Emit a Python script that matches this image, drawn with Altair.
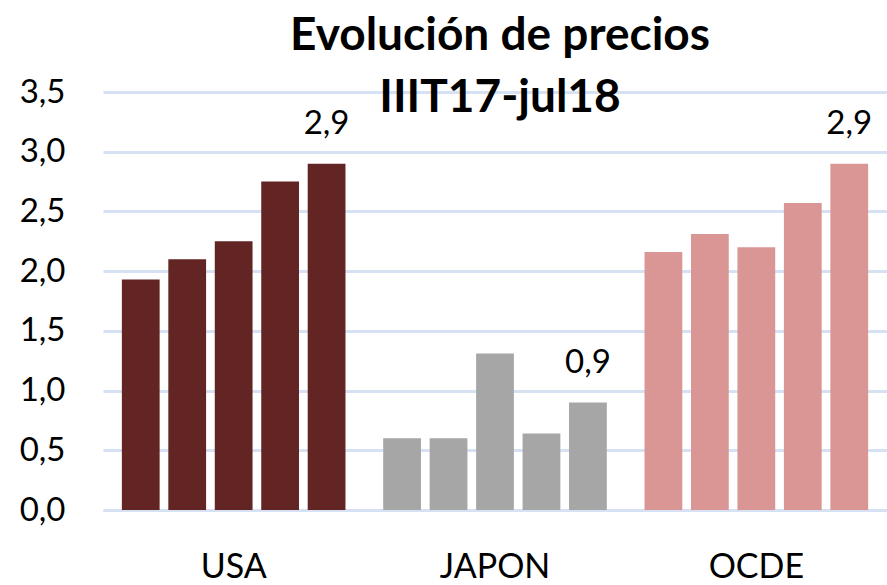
import altair as alt
import pandas as pd

groups = ["USA", "JAPON", "OCDE"]
usa = [1.93, 2.10, 2.25, 2.75, 2.90]
japon = [0.60, 0.60, 1.31, 0.64, 0.90]
ocde = [2.16, 2.31, 2.20, 2.57, 2.90]
colors = ["#632523", "#A6A6A6", "#D99694"]
title_lines = ["Evolución de precios", "IIIT17-jul18"]

rows = []
for g, vals in zip(groups, [usa, japon, ocde]):
    for i, v in enumerate(vals):
        rows.append({"group": g, "i": i, "value": v})
df = pd.DataFrame(rows)

FONT = "Lato"
GRID = "#D6E2F3"

x = alt.X("group:N", sort=groups,
          scale=alt.Scale(paddingInner=0, paddingOuter=0),
          axis=alt.Axis(title=None, labelAngle=0, labelFontSize=34, labelFont=FONT,
                        labelColor="#000000", ticks=False, labelPadding=40,
                        domainColor=GRID, domainWidth=3))
xo = alt.XOffset("i:O", scale=alt.Scale(paddingInner=0.187, paddingOuter=0.406))
y = alt.Y("value:Q", scale=alt.Scale(domain=[0, 3.5], nice=False),
          axis=alt.Axis(title=None, values=[0, 0.5, 1, 1.5, 2, 2.5, 3, 3.5],
                        labelExpr="replace(format(datum.value, '.1f'), '.', ',')",
                        labelFontSize=33, labelFont=FONT, labelColor="#000000",
                        ticks=False, domain=False, labelPadding=38,
                        gridColor=GRID, gridWidth=3))

base = alt.Chart(df)
bars = base.mark_bar().encode(
    x=x, xOffset=xo, y=y,
    color=alt.Color("group:N", sort=groups,
                    scale=alt.Scale(domain=groups, range=colors), legend=None),
)
labels = base.transform_filter("datum.i == 4").transform_calculate(
    lab="replace(format(datum.value, '.1f'), '.', ',')"
).mark_text(font=FONT, fontSize=33, color="#000000", baseline="alphabetic", dy=-30).encode(
    x=x, xOffset=xo, y=y, text="lab:N"
)

chart = (bars + labels).properties(
    width=784, height=418,
    title=alt.TitleParams(text=title_lines, font=FONT, fontSize=46, fontWeight="bold",
                          color="#000000", lineHeight=62, offset=-46, anchor="middle", dx=5),
    autosize=alt.AutoSizeParams(type="none"),
    padding={"left": 103, "top": 92, "right": 0, "bottom": 75},
).configure_view(stroke=None)

chart.save("out.html", embed_options={"renderer": "svg", "actions": False})
